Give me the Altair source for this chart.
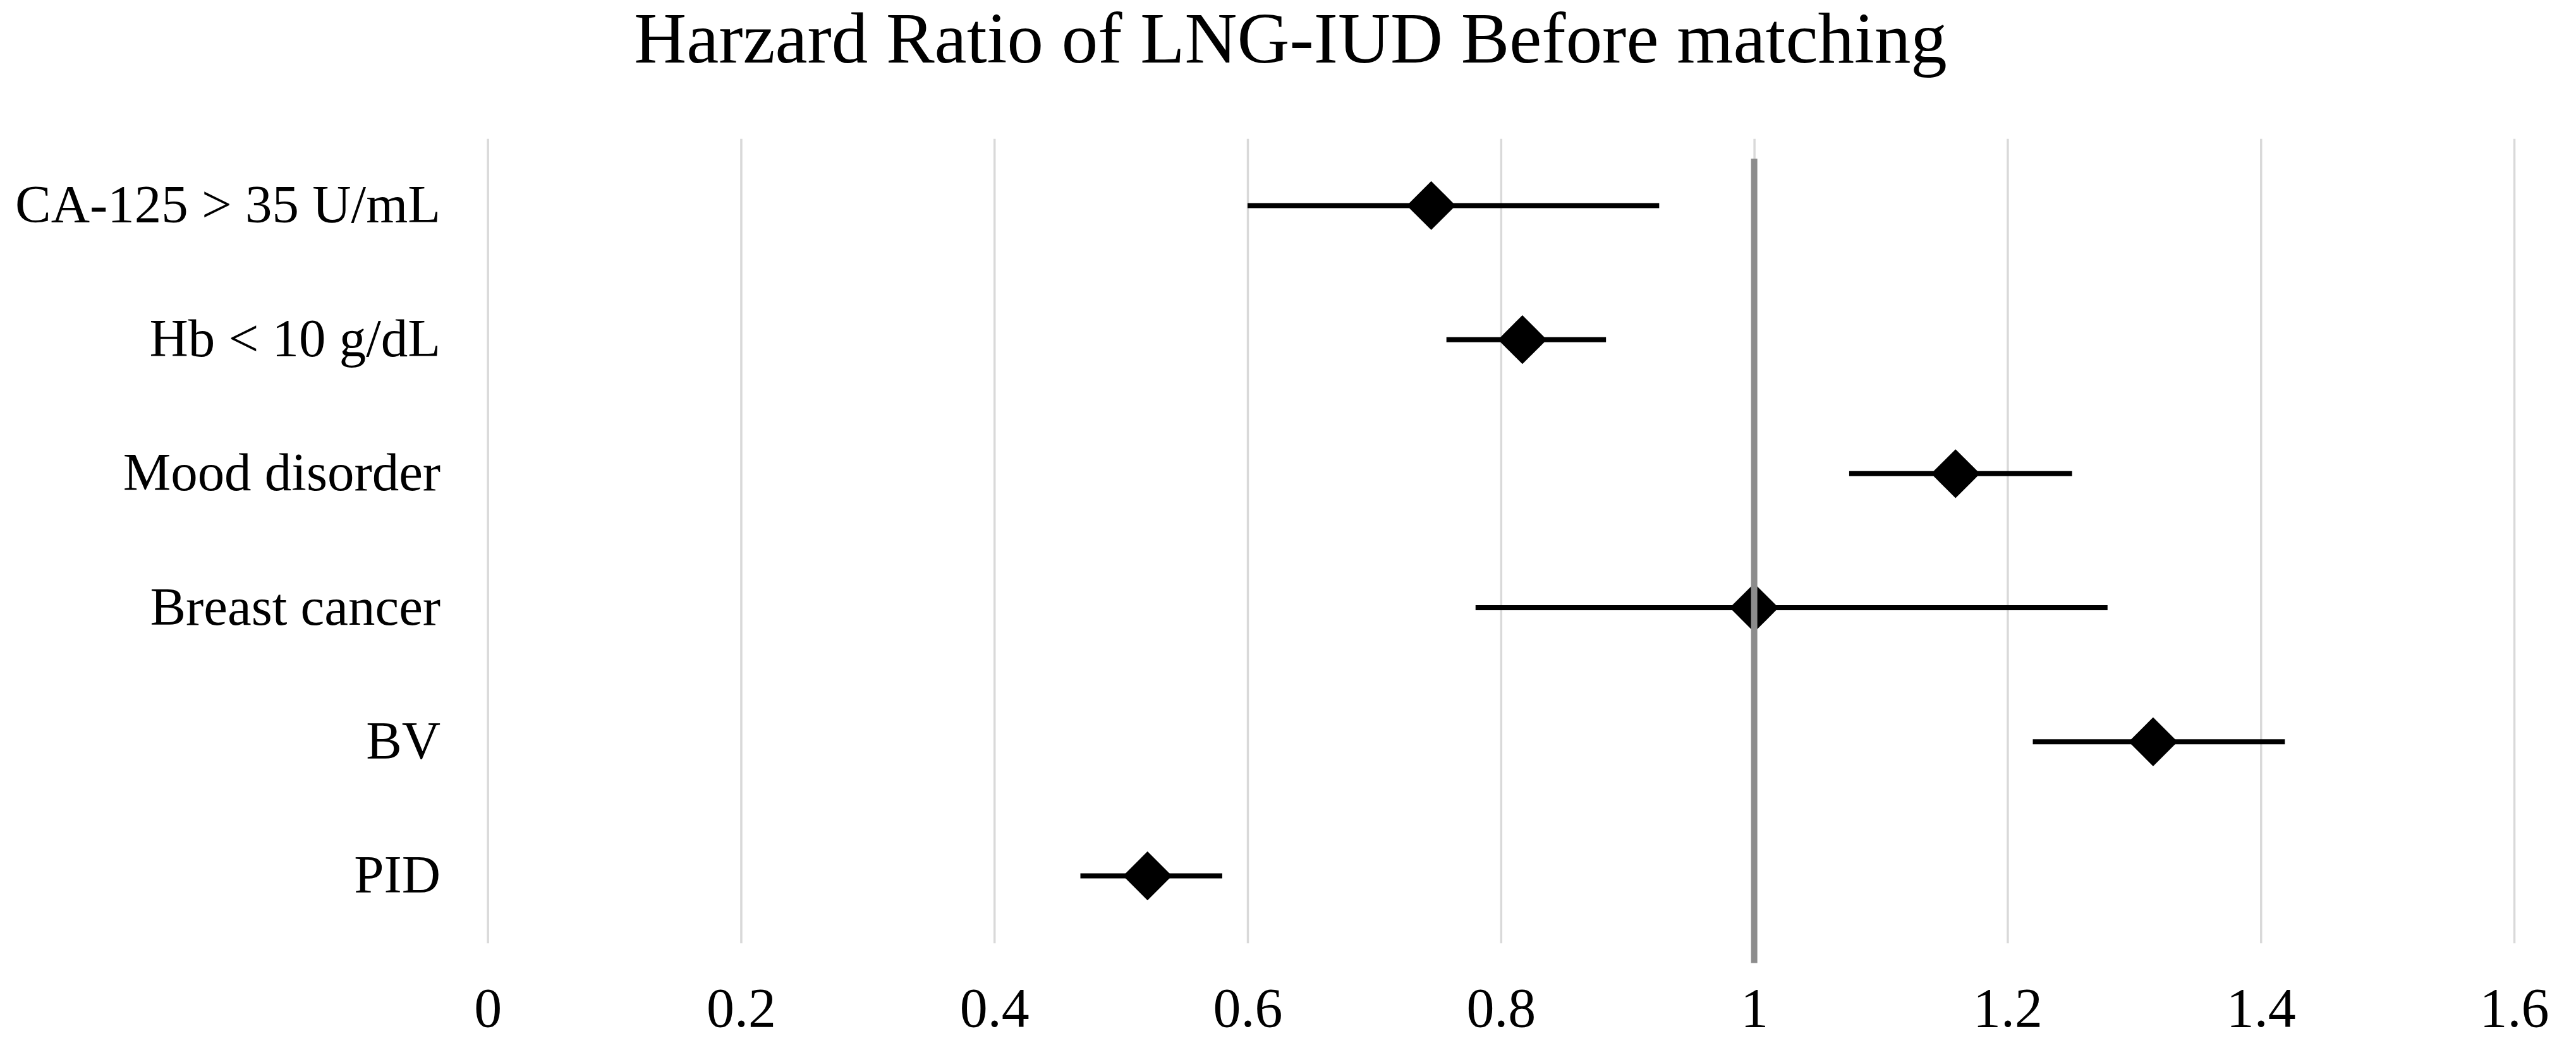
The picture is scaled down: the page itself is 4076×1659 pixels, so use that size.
import altair as alt
import pandas as pd

# Data
categories = ["CA-125 > 35 U/mL", "Hb < 10 g/dL", "Mood disorder", "Breast cancer", "BV", "PID"]
hr = [0.745, 0.817, 1.159, 1.000, 1.315, 0.521]
ci_low = [0.600, 0.757, 1.075, 0.780, 1.220, 0.468]
ci_high = [0.925, 0.883, 1.251, 1.279, 1.419, 0.580]
x_ticks = [0, 0.2, 0.4, 0.6, 0.8, 1.0, 1.2, 1.4, 1.6]
ref_value = [1.0]

n = len(categories)
rows = list(range(n, 0, -1))  # top row gets highest value
df = pd.DataFrame({"cat": categories, "row": rows, "hr": hr, "lo": ci_low, "hi": ci_high})
ref_df = pd.DataFrame({"x": ref_value, "y0": [0.35], "y1": [n + 0.35]})

label_lookup = "[" + ",".join("'" + c + "'" for c in ([""] + categories[::-1])) + "]"

FONT = "Liberation Serif"

x_scale = alt.Scale(domain=[0, 1.6], nice=False, zero=True)
y_scale = alt.Scale(domain=[0.5, n + 0.5], nice=False, zero=False)

x_axis = alt.Axis(values=x_ticks, format="~g", title=None, grid=True, gridColor="#d9d9d9",
                  gridWidth=3.5, domain=False, ticks=False, labelFont=FONT, labelFontSize=88,
                  labelColor="black", labelPadding=62, labelFlush=False)
y_axis = alt.Axis(values=rows, labelExpr=label_lookup + "[datum.value]", title=None, grid=False,
                  domain=False, ticks=False, labelFont=FONT, labelFontSize=85, labelColor="black",
                  labelPadding=75, labelLimit=2000)

base = alt.Chart(df)

bars = base.mark_rule(color="black", strokeWidth=8).encode(
    x=alt.X("lo:Q", scale=x_scale, axis=x_axis),
    x2="hi:Q",
    y=alt.Y("row:Q", scale=y_scale, axis=y_axis),
)

points = base.mark_point(shape="diamond", filled=True, color="black", opacity=1, size=6000).encode(
    x=alt.X("hr:Q", scale=x_scale),
    y=alt.Y("row:Q", scale=y_scale),
)

ref = alt.Chart(ref_df).mark_rule(color="#8c8c8c", strokeWidth=10, clip=False).encode(
    x=alt.X("x:Q", scale=x_scale),
    y=alt.Y("y0:Q", scale=y_scale),
    y2="y1:Q",
)

chart = alt.layer(bars, points, ref).properties(
    width=3208,
    height=1274,
    background="white",
    title=alt.TitleParams("Harzard Ratio of LNG-IUD Before matching", font=FONT, fontSize=115,
                          fontWeight="normal", color="black", anchor="middle", frame="group",
                          dx=-333, offset=96),
    autosize=alt.AutoSizeParams(type="none"),
    padding={"left": 764, "top": 211, "right": 90, "bottom": 150},
).configure_view(strokeWidth=0, stroke="transparent")

chart.save("out.html", embed_options={"renderer": "svg", "actions": False})
